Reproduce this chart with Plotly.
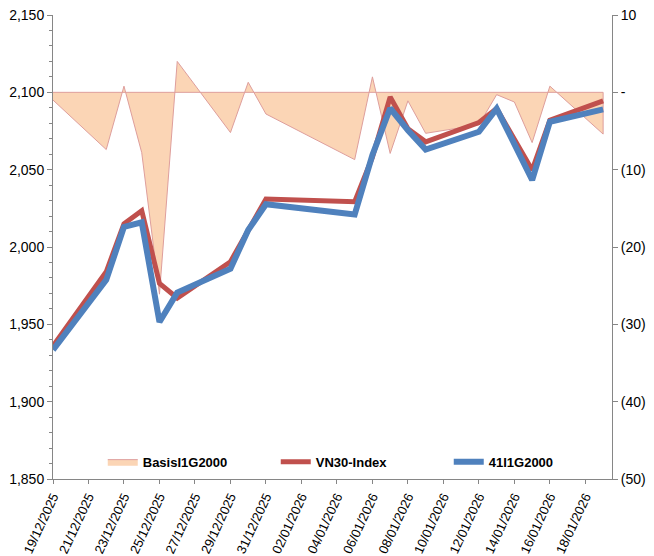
import plotly.graph_objects as go

# trading days on the chart
dates = ['2025-12-19', '2025-12-22', '2025-12-23', '2025-12-24', '2025-12-25',
         '2025-12-26', '2025-12-29', '2025-12-30', '2025-12-31', '2026-01-05',
         '2026-01-06', '2026-01-07', '2026-01-08', '2026-01-09', '2026-01-12',
         '2026-01-13', '2026-01-14', '2026-01-15', '2026-01-16', '2026-01-19']

vn30 = [1936, 1984, 2015, 2023.5, 1976.5, 1967, 1990.5, 2011, 2031, 2029.3,
        2058, 2097, 2076.5, 2068, 2080.5, 2089.5, 2069.5, 2049.8, 2082, 2094.5]
f41 = [1933.5, 1978.7, 2013, 2016, 1951.5, 1970.5, 1986, 2011, 2027.6, 2021,
       2059.5, 2089.7, 2075.5, 2063, 2074.5, 2089.5, 2066.5, 2043.3, 2081, 2089]
basis = [-1.0, -7.4, 0.8, -7.8, -26.1, 4.0, -5.2, 1.3, -2.8, -8.7,
         2.0, -7.9, -1.1, -5.3, -4.2, -0.3, -1.25, -6.5, 0.8, -5.4]

right_ticks = [10, 0, -10, -20, -30, -40, -50]
right_labels = ['10', '-', '(10)', '(20)', '(30)', '(40)', '(50)']

font = 'Liberation Sans, Arial, sans-serif'
axis_col = '#868686'

fig = go.Figure()

# area closed back along the zero line so the border includes the baseline (like Excel)
fig.add_trace(go.Scatter(
    x=dates + dates[::-1],
    y=basis + [0] * len(dates),
    name='BasisI1G2000',
    mode='lines',
    fill='toself',
    fillcolor='#FBD5B5',
    line=dict(color='#DE9E9C', width=1),
    yaxis='y',
))
fig.add_trace(go.Scatter(
    x=dates, y=vn30, name='VN30-Index', mode='lines',
    line=dict(color='#C0504D', width=5), yaxis='y2',
))
fig.add_trace(go.Scatter(
    x=dates, y=f41, name='41I1G2000', mode='lines',
    line=dict(color='#4F81BD', width=6), yaxis='y2',
))

# page body adds an 8px offset, so the figure is a little smaller than the window
fig.update_layout(
    width=646, height=548,
    paper_bgcolor='white', plot_bgcolor='white',
    margin=dict(l=45, r=42, t=7, b=77),
    font=dict(family=font, size=13, color='black'),
    showlegend=True,
    legend=dict(
        orientation='h', x=0.089, y=0.005, xanchor='left', yanchor='bottom',
        bgcolor='rgba(0,0,0,0)',
        font=dict(family=font, size=13, color='black', weight='bold'),
        entrywidth=128, entrywidthmode='pixels',
    ),
    xaxis=dict(
        type='date', automargin=False,
        range=['2025-12-19', '2026-01-19 12:00'],
        tick0='2025-12-19', dtick=2 * 86400000,
        tickformat='%d/%m/%Y', tickangle=-65,
        tickfont=dict(size=13),
        showline=True, linecolor=axis_col, linewidth=1,
        ticks='outside', ticklen=4, tickcolor=axis_col,
        showgrid=False, zeroline=False,
    ),
    yaxis=dict(
        side='right', range=[-50, 10], automargin=False,
        tickvals=right_ticks, ticktext=right_labels,
        tickfont=dict(size=14), ticklabeloverflow='allow',
        showline=True, linecolor=axis_col, linewidth=1,
        ticks='outside', ticklen=5, tickcolor=axis_col,
        showgrid=False, zeroline=False,
    ),
    yaxis2=dict(
        side='left', overlaying='y', range=[1850, 2150], automargin=False,
        dtick=50, tickformat=',',
        tickfont=dict(size=14), ticklabeloverflow='allow',
        showline=True, linecolor=axis_col, linewidth=1,
        ticks='outside', ticklen=5, tickcolor=axis_col,
        minor=dict(dtick=10, ticks='outside', ticklen=3, tickcolor=axis_col),
        showgrid=False, zeroline=False,
    ),
)

fig.write_html("out.html")
